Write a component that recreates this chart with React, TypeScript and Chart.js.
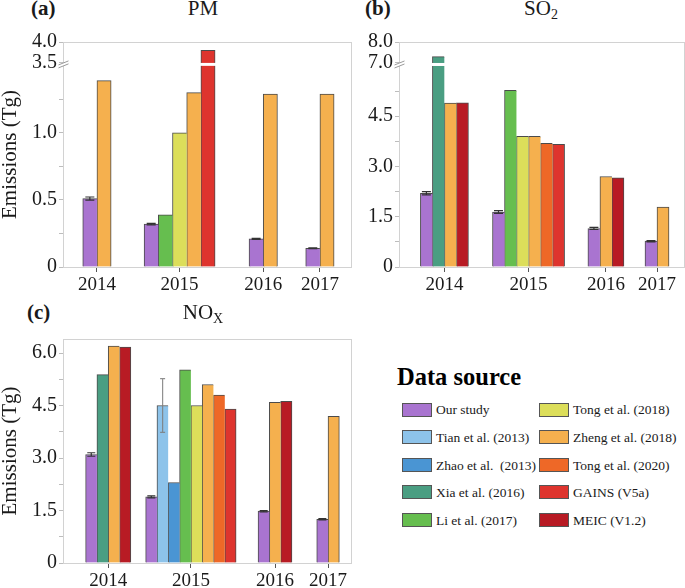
import React, { useEffect, useRef } from 'react';
import { Chart, registerables } from 'chart.js';
Chart.register(...registerables);

const FONT = '"Liberation Serif", "Times New Roman", serif';
const TXT = '#1a1a1a';

const YEARS = ['2014', '2015', '2016', '2017'];
const SOURCES = [
  'Our study', 'Tian et al. (2013)', 'Zhao et al.  (2013)', 'Xia et al. (2016)', 'Li et al. (2017)',
  'Tong et al. (2018)', 'Zheng et al. (2018)', 'Tong et al. (2020)', 'GAINS (V5a)', 'MEIC (V1.2)',
];
const COLORS = [
  '#A974D0', '#8DC3EA', '#4A95D3', '#4A9E82', '#66BE4F',
  '#DCDE5A', '#F5B04E', '#EE6827', '#DE342E', '#B81B24',
];

// ---- PM (Tg) ----
const PM_OUR = [0.51, 0.32, 0.21, 0.14];
const PM_OUR_ERR = [0.012, 0.006, 0.004, 0.003];
const PM_LI = [null, 0.39, null, null];
const PM_TONG18 = [null, 1.0, null, null];
const PM_ZHENG = [1.39, 1.3, 1.29, 1.29];
const PM_GAINS = [null, 3.8, null, null];
const PM_MAJOR = [0, 0.5, 1.0, 3.5, 4.0];
const PM_MINOR = [0.25, 0.75, 1.25];

// ---- SO2 (Tg) ----
const SO2_OUR = [2.2, 1.64, 1.15, 0.77];
const SO2_OUR_ERR = [0.05, 0.04, 0.03, 0.02];
const SO2_XIA = [7.3, null, null, null];
const SO2_LI = [null, 5.27, null, null];
const SO2_TONG18 = [null, 3.9, null, null];
const SO2_ZHENG = [4.89, 3.9, 2.7, 1.79];
const SO2_TONG20 = [null, 3.69, null, null];
const SO2_GAINS = [null, 3.66, null, null];
const SO2_MEIC = [4.9, null, 2.66, null];
const SO2_MAJOR = [0, 1.5, 3.0, 4.5, 7.0, 8.0];
const SO2_MINOR = [0.75, 2.25, 3.75, 5.25];

// ---- NOx (Tg) ----
const NOX_OUR = [3.1, 1.89, 1.48, 1.25];
const NOX_OUR_ERR = [0.05, 0.03, 0.02, 0.02];
const NOX_TIAN = [null, 4.5, null, null];
const NOX_TIAN_ERR = [null, 0.77, null, null];
const NOX_ZHAO = [null, 2.3, null, null];
const NOX_XIA = [5.38, null, null, null];
const NOX_LI = [null, 5.52, null, null];
const NOX_TONG18 = [null, 4.5, null, null];
const NOX_ZHENG = [6.2, 5.1, 4.59, 4.19];
const NOX_TONG20 = [null, 4.8, null, null];
const NOX_GAINS = [null, 4.4, null, null];
const NOX_MEIC = [6.17, null, 4.62, null];
const NOX_MAJOR = [0, 1.5, 3.0, 4.5, 6.0];
const NOX_MINOR = [0.75, 2.25, 3.75, 5.25];

type Val = number | null;
type Series = { src: number; values: Val[]; errors?: Val[]; errColor?: string; capHalf?: number };
type Brk = { lowMax: number; gap: number; upMin: number; upMax: number; upSpan: number } | null;
type PanelCfg = {
  series: Series[]; brk: Brk; yMax: number; major: number[]; minor: number[];
  padL: number; padR: number; gaps: number[];
  yWidth: number; yTitle: boolean; padRight: number; padTop: number; xHeight: number;
};

const OUR_ERR_COLOR = '#333333';

const PANEL_A: PanelCfg = {
  series: [
    { src: 0, values: PM_OUR, errors: PM_OUR_ERR, errColor: OUR_ERR_COLOR, capHalf: 4.5 },
    { src: 4, values: PM_LI },
    { src: 5, values: PM_TONG18 },
    { src: 6, values: PM_ZHENG },
    { src: 8, values: PM_GAINS },
  ],
  brk: { lowMax: 1.5, gap: 0.022, upMin: 3.5, upMax: 4.0, upSpan: 0.156 },
  yMax: 4.0, major: PM_MAJOR, minor: PM_MINOR,
  padL: 1.39, padR: 1.26, gaps: [2.32, 2.39, 1.99],
  yWidth: 63, yTitle: true, padRight: 3, padTop: 13, xHeight: 25,
};

const PANEL_B: PanelCfg = {
  series: [
    { src: 0, values: SO2_OUR, errors: SO2_OUR_ERR, errColor: OUR_ERR_COLOR, capHalf: 4.5 },
    { src: 3, values: SO2_XIA },
    { src: 4, values: SO2_LI },
    { src: 5, values: SO2_TONG18 },
    { src: 6, values: SO2_ZHENG },
    { src: 7, values: SO2_TONG20 },
    { src: 8, values: SO2_GAINS },
    { src: 9, values: SO2_MEIC },
  ],
  brk: { lowMax: 6.0, gap: 0.09, upMin: 7.0, upMax: 8.0, upSpan: 0.626 },
  yMax: 8.0, major: SO2_MAJOR, minor: SO2_MINOR,
  padL: 1.78, padR: 1.33, gaps: [2.0, 1.94, 1.75],
  yWidth: 44, yTitle: false, padRight: 0, padTop: 13, xHeight: 25,
};

const PANEL_C: PanelCfg = {
  series: [
    { src: 0, values: NOX_OUR, errors: NOX_OUR_ERR, errColor: OUR_ERR_COLOR, capHalf: 4 },
    { src: 1, values: NOX_TIAN, errors: NOX_TIAN_ERR, errColor: 'rgba(125,125,125,0.85)', capHalf: 2.5 },
    { src: 2, values: NOX_ZHAO },
    { src: 3, values: NOX_XIA },
    { src: 4, values: NOX_LI },
    { src: 5, values: NOX_TONG18 },
    { src: 6, values: NOX_ZHENG },
    { src: 7, values: NOX_TONG20 },
    { src: 8, values: NOX_GAINS },
    { src: 9, values: NOX_MEIC },
  ],
  brk: null,
  yMax: 6.4, major: NOX_MAJOR, minor: NOX_MINOR,
  padL: 2.0, padR: 1.12, gaps: [1.31, 1.94, 2.19],
  yWidth: 63, yTitle: true, padRight: 3, padTop: 13, xHeight: 25,
};

function makeTf(brk: Brk) {
  return (v: number) =>
    !brk || v <= brk.lowMax
      ? v
      : brk.lowMax + brk.gap + ((v - brk.upMin) / (brk.upMax - brk.upMin)) * brk.upSpan;
}

function fmt(v: number) {
  return v === 0 ? '0' : v.toFixed(1);
}

function buildChart(canvas: HTMLCanvasElement, cfg: PanelCfg) {
  const tf = makeTf(cfg.brk);
  const xs: number[][] = cfg.series.map(() => []);
  const lastFlags: boolean[][] = cfg.series.map(() => []);
  const centers: number[] = [];
  let pos = cfg.padL;
  YEARS.forEach((_, yi) => {
    if (yi > 0) pos += cfg.gaps[yi - 1];
    const present = cfg.series.map((s, si) => (s.values[yi] != null ? si : -1)).filter((i) => i >= 0);
    present.forEach((si, k) => {
      xs[si][yi] = pos + k + 0.5;
      lastFlags[si][yi] = k === present.length - 1;
    });
    centers.push(pos + present.length / 2);
    pos += present.length;
  });
  const xMax = pos + cfg.padR;

  const datasets = cfg.series.map((s, si) => {
    const data: any[] = [];
    s.values.forEach((v, yi) => {
      if (v == null) return;
      data.push({
        x: xs[si][yi],
        y: tf(v),
        v,
        err: s.errors ? s.errors[yi] : null,
        last: lastFlags[si][yi],
      });
    });
    return {
      label: SOURCES[s.src],
      data,
      backgroundColor: COLORS[s.src],
      borderColor: 'rgba(55,55,55,0.9)',
      borderWidth: (ctx: any) => ({ top: 1, left: 1, bottom: 0, right: ctx.raw && ctx.raw.last ? 1 : 0 }),
      borderSkipped: false as any,
      grouped: false,
      barPercentage: 1,
      categoryPercentage: 1,
      errColor: s.errColor,
      capHalf: s.capHalf,
    };
  });

  const tickVals = [...cfg.major.map((v) => ({ v, major: true })), ...cfg.minor.map((v) => ({ v, major: false }))];
  const tickLabels = tickVals.map((t) => (t.major ? fmt(t.v) : ''));

  const framePlugin = {
    id: 'frame',
    beforeDatasetsDraw(chart: any) {
      const { left, top, right, bottom } = chart.chartArea;
      const c = chart.ctx;
      c.save();
      c.strokeStyle = '#d2d2d2';
      c.lineWidth = 1;
      c.strokeRect(Math.round(left) + 0.5, Math.round(top) + 0.5, Math.round(right - left) - 1, Math.round(bottom - top));
      c.restore();
    },
  };

  const breakPlugin = {
    id: 'brk',
    afterDatasetsDraw(chart: any) {
      const brk = cfg.brk;
      if (!brk) return;
      const c = chart.ctx;
      const ys = chart.scales.y;
      const yLow = ys.getPixelForValue(brk.lowMax);
      const yHigh = ys.getPixelForValue(brk.lowMax + brk.gap);
      c.save();
      c.fillStyle = '#ffffff';
      chart.data.datasets.forEach((ds: any, di: number) => {
        const meta = chart.getDatasetMeta(di);
        meta.data.forEach((el: any, i: number) => {
          if (ds.data[i].v > brk.lowMax) {
            c.fillRect(el.x - el.width / 2 - 1, yHigh, el.width + 2, yLow - yHigh);
          }
        });
      });
      const L = Math.round(chart.chartArea.left) + 0.5;
      c.fillRect(L - 3, yHigh, 6, yLow - yHigh);
      c.strokeStyle = '#9a9a9a';
      c.lineWidth = 1;
      [yHigh, yLow].forEach((yy) => {
        c.beginPath();
        c.moveTo(L - 5, yy + 2);
        c.lineTo(L + 5, yy - 2);
        c.stroke();
      });
      c.restore();
    },
  };

  const errPlugin = {
    id: 'errbars',
    afterDatasetsDraw(chart: any) {
      const c = chart.ctx;
      const ys = chart.scales.y;
      chart.data.datasets.forEach((ds: any, di: number) => {
        const meta = chart.getDatasetMeta(di);
        meta.data.forEach((el: any, i: number) => {
          const p = ds.data[i];
          if (!p.err) return;
          const yT = ys.getPixelForValue(tf(p.v + p.err));
          const yB = ys.getPixelForValue(tf(p.v - p.err));
          const h = ds.capHalf || 4;
          c.save();
          c.strokeStyle = ds.errColor || '#333';
          c.lineWidth = 1.2;
          c.beginPath();
          c.moveTo(el.x, yT);
          c.lineTo(el.x, yB);
          c.moveTo(el.x - h, yT);
          c.lineTo(el.x + h, yT);
          c.moveTo(el.x - h, yB);
          c.lineTo(el.x + h, yB);
          c.stroke();
          c.restore();
        });
      });
    },
  };

  return new Chart(canvas, {
    type: 'bar',
    data: { datasets: datasets as any },
    plugins: [framePlugin, breakPlugin, errPlugin],
    options: {
      animation: false,
      responsive: false,
      maintainAspectRatio: false,
      events: [],
      layout: { padding: { top: cfg.padTop, right: cfg.padRight, left: 0, bottom: 0 } },
      plugins: { legend: { display: false }, tooltip: { enabled: false }, title: { display: false } },
      scales: {
        x: {
          type: 'linear',
          min: 0,
          max: xMax,
          offset: false,
          afterBuildTicks: (scale: any) => {
            scale.ticks = centers.map((c) => ({ value: c }));
          },
          afterFit: (scale: any) => {
            scale.height = cfg.xHeight;
          },
          ticks: {
            autoSkip: false,
            maxRotation: 0,
            minRotation: 0,
            padding: 2,
            color: TXT,
            font: { family: FONT, size: 19 },
            callback: (_v: any, i: number) => YEARS[i],
          },
          grid: { offset: false, drawOnChartArea: false, drawTicks: true, tickLength: 5, tickColor: '#555555', tickWidth: 1 },
          border: { display: false },
        },
        y: {
          type: 'linear',
          min: 0,
          max: tf(cfg.yMax),
          afterBuildTicks: (scale: any) => {
            scale.ticks = tickVals.map((t) => ({ value: tf(t.v) }));
          },
          afterFit: (scale: any) => {
            scale.width = cfg.yWidth;
          },
          ticks: {
            autoSkip: false,
            padding: 2,
            color: TXT,
            font: { family: FONT, size: 20 },
            callback: (_v: any, i: number) => tickLabels[i],
          },
          grid: { drawOnChartArea: false, drawTicks: true, tickLength: 4, tickColor: '#bdbdbd', tickWidth: 1 },
          border: { display: false },
          title: {
            display: cfg.yTitle,
            text: 'Emissions (Tg)',
            color: TXT,
            font: { family: FONT, size: 21, lineHeight: 1 },
            padding: { top: 0, bottom: 0 },
          },
        },
      },
    } as any,
  });
}

function Panel({ cfg, left, top, width, height }: { cfg: PanelCfg; left: number; top: number; width: number; height: number }) {
  const ref = useRef<HTMLCanvasElement | null>(null);
  useEffect(() => {
    if (!ref.current) return;
    const chart = buildChart(ref.current, cfg);
    return () => chart.destroy();
  }, [cfg]);
  return (
    <div style={{ position: 'absolute', left, top, width, height }}>
      <canvas ref={ref} width={width} height={height} style={{ width, height, display: 'block' }} />
    </div>
  );
}

const labelStyle: React.CSSProperties = {
  position: 'absolute',
  fontFamily: FONT,
  fontSize: 21,
  lineHeight: '21px',
  color: TXT,
  whiteSpace: 'nowrap',
};

function PanelTitle({ tag, left, center, top, children }: { tag: string; left: number; center: number; top: number; children: React.ReactNode }) {
  return (
    <>
      <div style={{ ...labelStyle, left, top, fontWeight: 'bold' }}>{tag}</div>
      <div style={{ ...labelStyle, left: center - 60, width: 120, textAlign: 'center', top }}>{children}</div>
    </>
  );
}

const subStyle: React.CSSProperties = { fontSize: 14, verticalAlign: 'baseline', position: 'relative', top: 4 };

function Legend() {
  const rowCenters = [409.7, 437.3, 464.8, 492.3, 519.8];
  const cols = [
    { box: 402, text: 436 },
    { box: 539, text: 573 },
  ];
  return (
    <>
      <div style={{ position: 'absolute', left: 397, top: 364.5, fontFamily: FONT, fontWeight: 'bold', fontSize: 24.5, lineHeight: '24.5px', color: '#000', whiteSpace: 'nowrap' }}>
        Data source
      </div>
      {SOURCES.map((s, i) => {
        const col = cols[Math.floor(i / 5)];
        const yc = rowCenters[i % 5];
        return (
          <React.Fragment key={s}>
            <div style={{ position: 'absolute', left: col.box, top: yc - 7, width: 30, height: 14, boxSizing: 'border-box', border: '1px solid #555', background: COLORS[i] }} />
            <div style={{ position: 'absolute', left: col.text, top: yc - 6.3, fontFamily: FONT, fontSize: 13.5, lineHeight: '13.5px', color: TXT, whiteSpace: 'pre' }}>{s}</div>
          </React.Fragment>
        );
      })}
    </>
  );
}

export default function App() {
  return (
    <div style={{ position: 'absolute', left: 0, top: 0, width: 685, height: 588, background: '#fff', overflow: 'hidden' }}>
      <Panel cfg={PANEL_A} left={0} top={28} width={355} height={264} />
      <Panel cfg={PANEL_B} left={355} top={28} width={330} height={264} />
      <Panel cfg={PANEL_C} left={0} top={325} width={355} height={263} />
      <PanelTitle tag="(a)" left={31} center={203} top={-2}>PM</PanelTitle>
      <PanelTitle tag="(b)" left={365} center={541} top={-2}>
        SO<span style={subStyle}>2</span>
      </PanelTitle>
      <PanelTitle tag="(c)" left={27} center={203} top={302}>
        NO<span style={subStyle}>X</span>
      </PanelTitle>
      <Legend />
    </div>
  );
}
